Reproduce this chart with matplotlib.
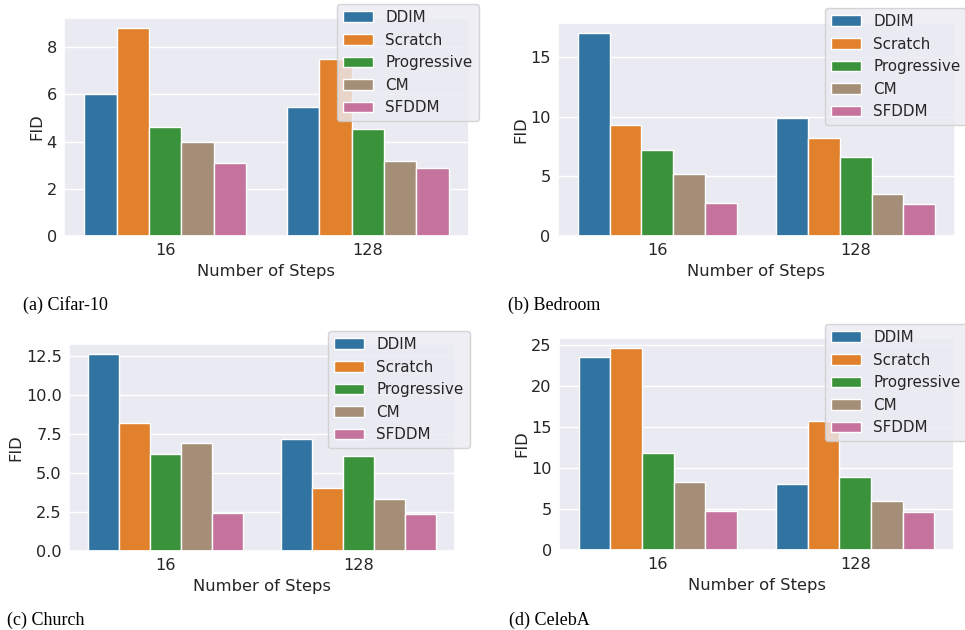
import matplotlib
matplotlib.use('Agg')
import matplotlib.pyplot as plt
from matplotlib.patches import Patch
import numpy as np
import pandas as pd
import seaborn as sns

# FID scores per dataset, for 16 and 128 sampling steps
steps = ['16', '128']
methods = ['DDIM', 'Scratch', 'Progressive', 'CM', 'SFDDM']
colors = ['#3274a1', '#e1812c', '#3a923a', '#a58e78', '#c5739c']

cifar = {'DDIM': [6.0, 5.45], 'Scratch': [8.8, 7.49], 'Progressive': [4.6, 4.52],
         'CM': [3.97, 3.16], 'SFDDM': [3.08, 2.87]}
bedroom = {'DDIM': [17.0, 9.86], 'Scratch': [9.28, 8.19], 'Progressive': [7.18, 6.6],
           'CM': [5.17, 3.5], 'SFDDM': [2.74, 2.66]}
church = {'DDIM': [12.64, 7.19], 'Scratch': [8.2, 4.04], 'Progressive': [6.23, 6.1],
          'CM': [6.93, 3.34], 'SFDDM': [2.44, 2.37]}
celeba = {'DDIM': [23.57, 8.02], 'Scratch': [24.67, 15.8], 'Progressive': [11.9, 8.87],
          'CM': [8.26, 5.95], 'SFDDM': [4.74, 4.62]}

captions = ['(a) Cifar-10', '(b) Bedroom', '(c) Church', '(d) CelebA']

sns.set_theme(style='darkgrid')
plt.rcParams['font.family'] = ['DejaVu Sans']
plt.rcParams['axes.labelsize'] = 11.8
plt.rcParams['xtick.labelsize'] = 11.6
plt.rcParams['ytick.labelsize'] = 11.6
plt.rcParams['legend.fontsize'] = 10.9


def to_frame(d):
    recs = []
    for m in methods:
        for s, v in zip(steps, d[m]):
            recs.append({'Number of Steps': s, 'Method': m, 'FID': v})
    return pd.DataFrame(recs)


fig = plt.figure(figsize=(9.65, 6.3), dpi=100)

# axes boxes in figure fractions
boxes = [[0.0663, 0.6254, 0.4197, 0.346],
         [0.5782, 0.6254, 0.4114, 0.338],
         [0.0715, 0.1254, 0.400, 0.3286],
         [0.5793, 0.1270, 0.4093, 0.3365]]
leg_pos = [(0.3492, 0.9937), (0.8549, 0.9873), (0.3399, 0.4746), (0.8549, 0.4857)]
cap_pos = [(0.024, 0.516), (0.526, 0.516), (0.007, 0.016), (0.527, 0.016)]

handles = [Patch(facecolor=c, label=m) for m, c in zip(methods, colors)]

for i, d in enumerate([cifar, bedroom, church, celeba]):
    ax = fig.add_axes(boxes[i])
    df = to_frame(d)
    sns.barplot(data=df, x='Number of Steps', y='FID', hue='Method',
                hue_order=methods, palette=colors, saturation=1, ax=ax)
    ax.tick_params(length=0, pad=5.2)
    ax.xaxis.labelpad = 4
    ax.yaxis.labelpad = 1.5
    if ax.get_legend() is not None:
        ax.get_legend().remove()
    ax.legend(handles=handles, loc='upper left', bbox_to_anchor=leg_pos[i],
              bbox_transform=fig.transFigure, borderaxespad=0, labelspacing=0.5)
    fig.text(cap_pos[i][0], cap_pos[i][1], captions[i], family='Liberation Serif',
             fontsize=13, va='center', ha='left', color='black')

fig.savefig('out.png', dpi=100)
plt.close()
